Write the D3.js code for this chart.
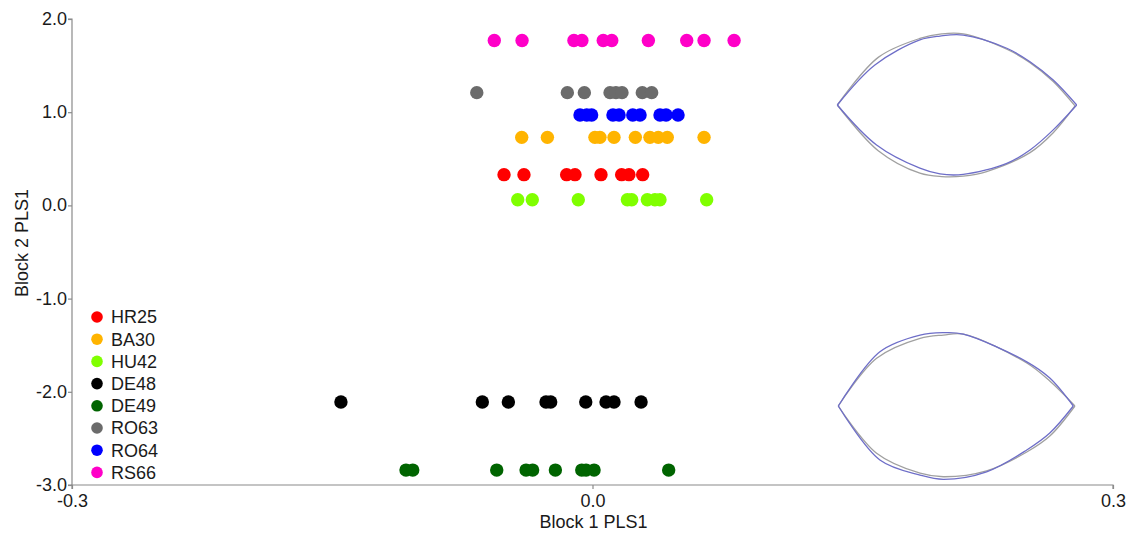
<!DOCTYPE html>
<html>
<head>
<meta charset="utf-8">
<script src="https://cdn.jsdelivr.net/npm/d3@7"></script>
<style>
  html, body { margin: 0; padding: 0; background: #fff; }
  svg { display: block; font-family: "Liberation Sans", Arial, sans-serif; }
</style>
</head>
<body>
<svg id="chart" width="1131" height="534"></svg>
<script>
// Block 1 vs Block 2 PLS1 scores, one row of points per population
const groups = ["HR25", "BA30", "HU42", "DE48", "DE49", "RO63", "RO64", "RS66"];
const groupColors = ["#ff0000", "#ffb400", "#80ff00", "#000000", "#006400", "#6b6b6b", "#0000ff", "#ff00c8"];

const hr25X = [-0.051, -0.0395, -0.0149, -0.0101, 0.0049, 0.0168, 0.021, 0.0289];
const hr25Y = 0.33;
const ba30X = [-0.0408, -0.026, 0.0014, 0.0043, 0.0124, 0.0247, 0.0331, 0.0379, 0.0431, 0.0643];
const ba30Y = 0.73;
const hu42X = [-0.0431, -0.0347, -0.0082, 0.0201, 0.0226, 0.0316, 0.036, 0.0389, 0.0658];
const hu42Y = 0.06;
const de48X = [-0.145, -0.0635, -0.0485, -0.0268, -0.0241, -0.0039, 0.0078, 0.0124, 0.028];
const de48Y = -2.11;
const de49X = [-0.1075, -0.1036, -0.0552, -0.0383, -0.0345, -0.0214, -0.0062, -0.0037, 0.0009, 0.0439];
const de49Y = -2.84;
const ro63X = [-0.0667, -0.0145, -0.0047, 0.0101, 0.0135, 0.017, 0.0287, 0.0341];
const ro63Y = 1.21;
const ro64X = [-0.0072, -0.0033, -0.0005, 0.0118, 0.0153, 0.0232, 0.0274, 0.0389, 0.0424, 0.0493];
const ro64Y = 0.97;
const rs66X = [-0.0566, -0.0406, -0.0107, -0.0061, 0.0062, 0.0111, 0.0322, 0.0543, 0.0643, 0.0816];
const rs66Y = 1.77;

const xTicks = [-0.3, 0.0, 0.3];
const yTicks = [2.0, 1.0, 0.0, -1.0, -2.0, -3.0];

// Leaf shape outlines at the two ends of the Block 2 axis (u across 0..100, v up/down).
// Each outline is an upper and a lower edge running from the left tip to the right tip.
const topLeafGrayUpper = [[0,0],[17.1,19.9],[34.5,27.8],[43.6,29.7],[52.6,29.7],[70.8,23.3],[80.5,17.7],[90.2,9.8],[99.3,-0.4]];
const topLeafGrayLower = [[0,0],[17.1,-19.1],[34.5,-28.5],[43.6,-29.9],[52.6,-29.7],[62.4,-27.8],[80.5,-19.9],[90.2,-11.6],[99.3,-0.4]];
const topLeafBlueUpper = [[0,0],[15.7,16.7],[34.5,27.2],[42.9,28.8],[52.6,29.2],[70.8,23.7],[80.5,18.1],[90.2,10.4],[100,0]];
const topLeafBlueLower = [[0,0],[16.4,-16.7],[34.5,-26.4],[42.9,-28.8],[52.6,-29],[70.8,-24.4],[80.5,-18.8],[90.2,-10.4],[100,0]];
const bottomLeafGrayUpper = [[0,0],[16.3,20.3],[34.8,28.8],[44.7,30.2],[53.2,30.6],[80.2,18.3],[90,10.6],[100.7,0]];
const bottomLeafGrayLower = [[0,0],[16.3,-20.1],[34.8,-28.6],[44.7,-30.1],[63.1,-27.6],[80.2,-19.6],[90,-12.8],[100.7,0]];
const bottomLeafBlueUpper = [[0,0],[17.7,23.1],[34.8,30.2],[44.7,31.2],[53.2,30.6],[80.2,18.8],[90,11.9],[100,0]];
const bottomLeafBlueLower = [[0,0],[17.7,-23],[34.8,-29.4],[44.7,-31.2],[63.1,-28],[80.2,-18.7],[90,-11.5],[100,0]];

const series = [
  { name: "HR25", xs: hr25X, y: hr25Y },
  { name: "BA30", xs: ba30X, y: ba30Y },
  { name: "HU42", xs: hu42X, y: hu42Y },
  { name: "DE48", xs: de48X, y: de48Y },
  { name: "DE49", xs: de49X, y: de49Y },
  { name: "RO63", xs: ro63X, y: ro63Y },
  { name: "RO64", xs: ro64X, y: ro64Y },
  { name: "RS66", xs: rs66X, y: rs66Y }
];

const svg = d3.select("#chart");
const plotLeft = 72, plotRight = 1113, plotTop = 19, plotBottom = 485;

const x = d3.scaleLinear().domain([-0.3, 0.3]).range([plotLeft, plotRight]);
const y = d3.scaleLinear().domain([-3, 2]).range([plotBottom, plotTop]);
const color = d3.scaleOrdinal().domain(groups).range(groupColors);

const axisColor = "#8a8a8a";
const textColor = "#1a1a1a";
const fontSize = 18;
const fmt = d => d.toFixed(1);

// Leaf outlines
function drawLeaf(edges, x0, x1, yc, stroke) {
  const lx = d3.scaleLinear().domain([0, 100]).range([x0, x1]);
  const k = (x1 - x0) / 100;
  const ly = d3.scaleLinear().domain([0, 1]).range([yc, yc - k]);
  const line = d3.line().x(d => lx(d[0])).y(d => ly(d[1])).curve(d3.curveCatmullRom.alpha(0.5));
  edges.forEach(pts => {
    svg.append("path").attr("d", line(pts)).attr("fill", "none")
      .attr("stroke", stroke).attr("stroke-width", 1.3).attr("stroke-linejoin", "round");
  });
}
drawLeaf([topLeafGrayUpper, topLeafGrayLower], 837.3, 1076.7, 105, "#a0a0a0");
drawLeaf([topLeafBlueUpper, topLeafBlueLower], 837.3, 1076.7, 105, "#6e6ec8");
drawLeaf([bottomLeafGrayUpper, bottomLeafGrayLower], 838.3, 1073.3, 406, "#a0a0a0");
drawLeaf([bottomLeafBlueUpper, bottomLeafBlueLower], 838.3, 1073.3, 406, "#6e6ec8");

// Axes
const xAxis = d3.axisBottom(x).tickValues(xTicks).tickFormat(fmt).tickSize(4).tickPadding(4);
const yAxis = d3.axisLeft(y).tickValues(yTicks).tickFormat(fmt).tickSize(4).tickPadding(1);

const gx = svg.append("g").attr("transform", `translate(0,${plotBottom})`).call(xAxis);
const gy = svg.append("g").attr("transform", `translate(${plotLeft},0)`).call(yAxis);
[gx, gy].forEach(g => {
  g.select(".domain").attr("stroke", axisColor).attr("stroke-width", 1.2);
  g.selectAll(".tick line").attr("stroke", axisColor).attr("stroke-width", 1.2);
  g.selectAll(".tick text").attr("fill", textColor).attr("font-size", fontSize)
    .attr("font-family", "'Liberation Sans', Arial, sans-serif");
});
gx.select(".domain").attr("d", `M${plotLeft},4V0H${plotRight}V4`);
gy.select(".domain").attr("d", `M-4,${plotTop}H0V${plotBottom}H-4`);
gy.selectAll(".tick text").attr("dy", "0.3em");
gx.selectAll(".tick text").attr("dy", "0.75em");

// Axis titles
svg.append("text").attr("x", (x(-0.3) + x(0.3)) / 2 + 1).attr("y", 528)
  .attr("text-anchor", "middle").attr("font-size", fontSize).attr("fill", textColor)
  .text("Block 1 PLS1");
svg.append("text").attr("transform", `translate(28,${243}) rotate(-90)`)
  .attr("text-anchor", "middle").attr("font-size", fontSize).attr("fill", textColor)
  .text("Block 2 PLS1");

// Points
const pts = svg.append("g");
series.forEach(s => {
  pts.selectAll(null).data(s.xs).enter().append("circle")
    .attr("cx", d => x(d)).attr("cy", y(s.y)).attr("r", 6.7)
    .attr("fill", color(s.name));
});

// Legend
const legend = svg.append("g").attr("transform", "translate(97,317)");
groups.forEach((g, i) => {
  const row = legend.append("g").attr("transform", `translate(0,${i * 22.2})`);
  row.append("circle").attr("r", 5.8).attr("fill", color(g));
  row.append("text").attr("x", 14).attr("dy", "0.36em").attr("font-size", fontSize)
    .attr("fill", textColor).text(g);
});
</script>
</body>
</html>
